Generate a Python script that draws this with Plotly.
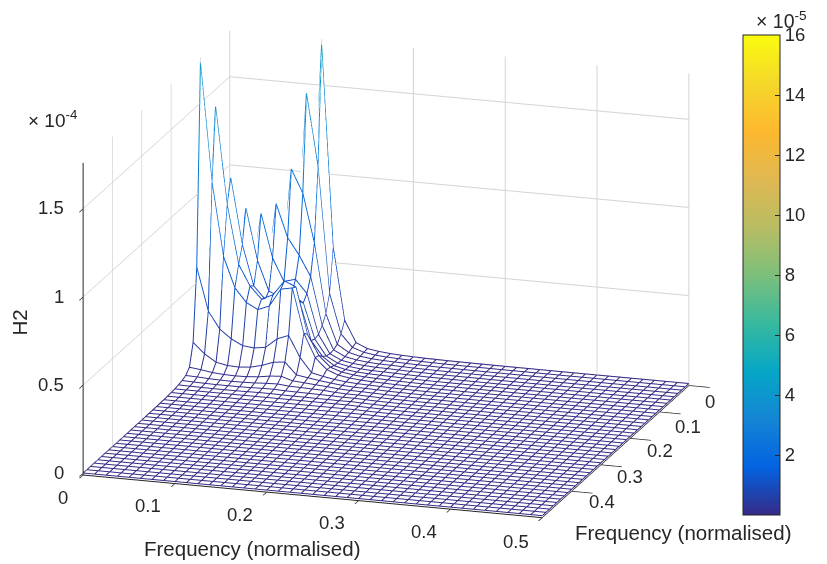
import plotly.graph_objects as go

FONT = "Liberation Sans"
INK = "#262626"
GRID = "#d4d4d4"

# grid of normalised frequency (both axes), 41 nodes
freq = [n / 80 for n in range(41)]

# H2 in units of 1e-4: row n lists H2 at (n, 0), (n, 1) ... (n, n)
tri = [
    [0.06],
    [0.06, 0.06],
    [0.06, 0.06, 0.06],
    [0.06, 0.06, 0.06, 0.06],
    [0.06, 0.06, 0.15, 0.35, 0.823],
    [0.06, 0.15, 0.35, 0.866, 0.577, 0.408],
    [0.15, 0.35, 1.05, 0.68, 0.45, 0.38, 0.40],
    [0.35, 1.467, 0.92, 0.586, 0.468, 0.40, 0.43, 0.515],
    [1.73, 1.06, 0.644, 0.471, 0.393, 0.359, 0.385, 0.487, 0.50],
    [0.59, 0.346, 0.249, 0.20, 0.167, 0.16, 0.17, 0.224, 0.249, 0.13],
    [0.18, 0.121, 0.08, 0.067, 0.064, 0.07, 0.086, 0.11, 0.117, 0.05, 0.04],
    [0.058, 0.05, 0.04, 0.035, 0.033, 0.035, 0.04, 0.05, 0.055, 0.035, 0.03, 0.025],
    [0.03, 0.028, 0.024, 0.022, 0.021, 0.022, 0.024, 0.028, 0.03, 0.024, 0.022, 0.02, 0.018],
    [0.02, 0.018, 0.016, 0.015, 0.015, 0.015, 0.016, 0.018, 0.019, 0.016, 0.015, 0.014, 0.013, 0.012],
    [0.014, 0.013, 0.012, 0.011, 0.011, 0.011, 0.012, 0.013, 0.013, 0.012, 0.011, 0.011, 0.01, 0.01, 0.009],
]
# flat floor beyond node 14: level of each further node
tail = [0.010, 0.008, 0.006, 0.005, 0.004, 0.0035, 0.003, 0.0028, 0.0025, 0.0022,
        0.002, 0.002, 0.0018, 0.0018, 0.0016, 0.0016, 0.0015, 0.0015, 0.0015, 0.0015,
        0.0015, 0.0015, 0.0015, 0.0015, 0.0015, 0.0015]

# line colour data (units of 1e-5) per unit of H2 (units of 1e-4)
colour_per_height = 2.5

x_ticks = [0, 0.1, 0.2, 0.3, 0.4, 0.5]
x_tick_labels = ["0", "0.1", "0.2", "0.3", "0.4", "0.5"]
y_ticks = [0, 0.1, 0.2, 0.3, 0.4]
y_tick_labels = ["0", "0.1", "0.2", "0.3", "0.4"]
z_ticks = [0, 0.5, 1, 1.5]
z_tick_labels = ["0", "0.5", "1", "1.5"]
colour_ticks = [2, 4, 6, 8, 10, 12, 14, 16]

parula = [
    [0.0, "#352a87"], [0.1, "#0363e1"], [0.2, "#1485d4"], [0.3, "#06a7c6"],
    [0.4, "#38b99e"], [0.5, "#7cbf7b"], [0.6, "#b9bd63"], [0.7, "#e0b851"],
    [0.8, "#fdb82f"], [0.9, "#f5d82a"], [1.0, "#f9fb0e"],
]

# label nudges in pixels, one per tick
x_label_dx = [-20, -26.5, -26.5, -26.5, -26.5, -26.5]
x_label_dy = [-24, -24, -24, -24, -24, -26]
y_label_dx = [21, 28, 30, 29, 30]
y_label_dy = [-18, -16, -14, -13, -12]


def height(i, j):
    hi, lo = max(i, j), min(i, j)
    return tri[hi][lo] if hi < len(tri) else tail[hi - len(tri)]


n = len(freq)
Z = [[height(i, j) for i in range(n)] for j in range(n)]

lx, ly, lz, lc = [], [], [], []
for j in range(n):
    for i in range(n):
        lx.append(freq[i]); ly.append(freq[j]); lz.append(Z[j][i]); lc.append(Z[j][i] * colour_per_height)
    lx.append(None); ly.append(None); lz.append(None); lc.append(0)
for i in range(n):
    for j in range(n):
        lx.append(freq[i]); ly.append(freq[j]); lz.append(Z[j][i]); lc.append(Z[j][i] * colour_per_height)
    lx.append(None); ly.append(None); lz.append(None); lc.append(0)

fig = go.Figure()
fig.add_trace(go.Surface(
    x=freq, y=freq, z=[[v - 0.006 for v in row] for row in Z],
    colorscale=[[0, "white"], [1, "white"]], showscale=False, hoverinfo="skip",
    lighting=dict(ambient=1, diffuse=0, specular=0, fresnel=0, roughness=1),
))
fig.add_trace(go.Scatter3d(
    x=lx, y=ly, z=lz, mode="lines", hoverinfo="skip", connectgaps=False,
    line=dict(color=lc, colorscale=parula, cmin=0, cmax=16, width=2, showscale=True,
              colorbar=dict(
                  x=735 / 827, xanchor="left", xpad=0, y=1 - 27 / 564, yanchor="top", ypad=0,
                  lenmode="pixels", len=480, thicknessmode="pixels", thickness=37,
                  tickmode="array", tickvals=colour_ticks, ticktext=[str(v) for v in colour_ticks],
                  ticks="inside", ticklen=5, tickcolor=INK, outlinecolor=INK, outlinewidth=1,
                  tickfont=dict(family=FONT, size=18.5, color=INK), bgcolor="rgba(0,0,0,0)")),
))

axis = dict(showbackground=False, showspikes=False, zeroline=False, showticklabels=False,
            gridcolor=GRID, gridwidth=2, showline=True, linecolor=INK, linewidth=2,
            ticks="outside", tickcolor=INK, tickwidth=2, title=dict(text=""))

notes = []
for v, t, dx, dy in zip(x_ticks, x_tick_labels, x_label_dx, x_label_dy):
    notes.append(dict(x=v, y=0.5, z=0, text=t, showarrow=False, xshift=dx, yshift=dy,
                      font=dict(family=FONT, size=18.5, color=INK)))
for v, t, dx, dy in zip(y_ticks, y_tick_labels, y_label_dx, y_label_dy):
    notes.append(dict(x=0.5, y=v, z=0, text=t, showarrow=False, xshift=dx, yshift=dy,
                      font=dict(family=FONT, size=18.5, color=INK)))
for v, t in zip(z_ticks, z_tick_labels):
    notes.append(dict(x=0, y=0.5, z=v, text=t, showarrow=False, xshift=-17, yshift=1, xanchor="right",
                      font=dict(family=FONT, size=18.5, color=INK)))

dist = 2.0
lift = -0.0582
zoom = 1.71


def label(x, y, text, size=20.5, angle=0):
    return dict(xref="paper", yref="paper", x=(x - 8.5) / 827, y=1 - (y - 9) / 564, text=text, textangle=angle,
                xanchor="center", yanchor="middle", showarrow=False,
                font=dict(family=FONT, size=size, color=INK))


fig.update_layout(
    width=827, height=564, margin=dict(l=0, r=0, t=0, b=0),
    paper_bgcolor="white", showlegend=False,
    scene=dict(
        domain=dict(x=[0, 756 / 827], y=[0, 1]),
        camera=dict(projection=dict(type="orthographic"), up=dict(x=0, y=0, z=1),
                    center=dict(x=0, y=0, z=lift),
                    eye=dict(x=0.2926 * dist, y=-0.9114 * dist, z=0.2893 * dist + lift)),
        aspectmode="manual", aspectratio=dict(x=zoom, y=0.995 * zoom, z=0.676 * zoom),
        xaxis=dict(axis, range=[0, 0.5], tickvals=x_ticks, ticklen=22),
        yaxis=dict(axis, range=[0.5, 0], tickvals=y_ticks, ticklen=12),
        zaxis=dict(axis, range=[-0.01, 1.76], tickvals=z_ticks, ticklen=35),
        annotations=notes,
    ),
    annotations=[
        label(252, 549, "Frequency (normalised)"),
        label(683, 533, "Frequency (normalised)"),
        label(20, 324, "H2", angle=-90),
        label(53, 120, "× 10<sup>-4</sup>", size=19),
        label(782, 21, "× 10<sup>-5</sup>", size=19.5),
    ],
)
fig.write_html("out.html")
